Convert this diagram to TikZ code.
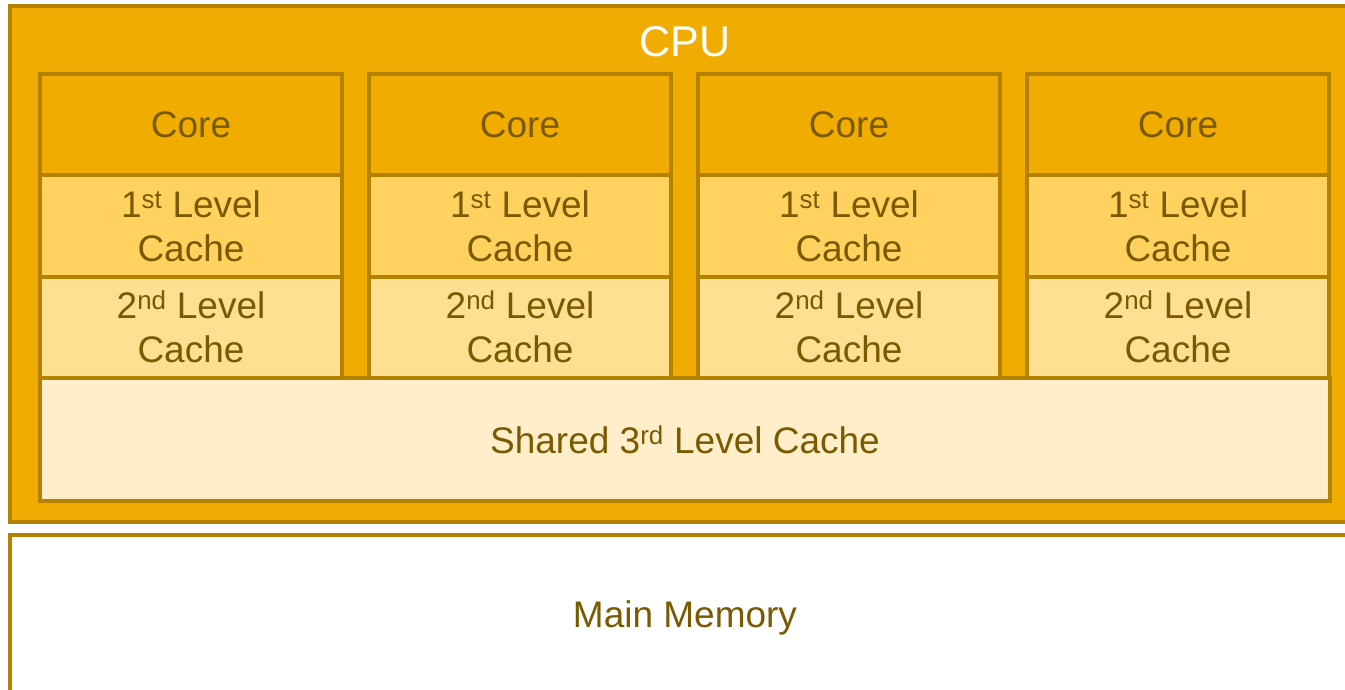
\documentclass[tikz,border=0pt]{standalone}
\usepackage{fontspec}
\setmainfont{Liberation Sans}
\usetikzlibrary{positioning}

\definecolor{edgebrown}{RGB}{180,130,0}
\definecolor{cpugold}{RGB}{240,172,0}
\definecolor{lonegold}{RGB}{255,210,95}
\definecolor{ltwogold}{RGB}{255,223,145}
\definecolor{lthreegold}{RGB}{255,238,201}
\definecolor{labelbrown}{RGB}{122,90,0}

\begin{document}
\begin{tikzpicture}[x=1pt, y=-1pt]
    \tikzset{
      box/.style={draw=edgebrown, line width=4pt, inner sep=0pt, outer sep=0pt,
                  text=labelbrown, align=center, font=\fontsize{37}{44}\selectfont},
      cell/.style={box, minimum width=302pt, minimum height=101.3pt},
      core/.style={cell, fill=cpugold},
      lone/.style={cell, fill=lonegold},
      ltwo/.style={cell, fill=ltwogold}
    }
    \clip (0,0) rectangle (1345,690);

    % processor package
    \node[box, fill=cpugold, anchor=north west, minimum width=1350pt, minimum height=516pt]
      (cpu) at (10,6) {};
    \node[text=white, font=\fontsize{43}{50}\selectfont] (cputitle) at (685,42) {CPU};

    % four cores with their private caches
    \foreach \i in {0,...,3} {
      \node[core, anchor=north west] (core\i) at (40+\i*329,74) {Core};
      \node[lone, below=0pt of core\i] (lone\i) {1\textsuperscript{st} Level\\Cache};
      \node[ltwo, below=0pt of lone\i] (ltwo\i) {2\textsuperscript{nd} Level\\Cache};
    }

    \node[box, fill=lthreegold, anchor=north west, minimum width=1290pt, minimum height=123pt]
      (lthree) at (ltwo0.south west) {Shared 3\textsuperscript{rd} Level Cache};

    \node[box, fill=white, anchor=north west, minimum width=1350pt, minimum height=166pt]
      (memory) at (10,535) {Main Memory};
\end{tikzpicture}
\end{document}
